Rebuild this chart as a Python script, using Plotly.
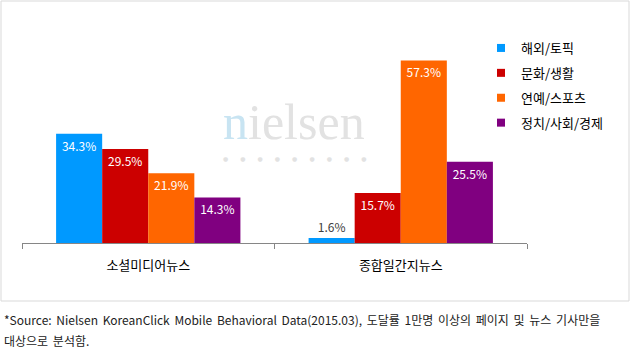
import plotly.graph_objects as go

categories = ["소셜미디어뉴스", "종합일간지뉴스"]
series_names = ["해외/토픽", "문화/생활", "연예/스포츠", "정치/사회/경제"]
overseas_topic = [34.3, 1.6]
culture_life = [29.5, 15.7]
entertainment_sports = [21.9, 57.3]
politics_society = [14.3, 25.5]
series_values = [overseas_topic, culture_life, entertainment_sports, politics_society]
colors = ["#0099ff", "#cc0000", "#ff6600", "#800080"]

footnote_1 = "*Source: Nielsen KoreanClick Mobile Behavioral Data(2015.03), 도달률 1만명 이상의 페이지 및 뉴스 기사만을"
footnote_2 = "대상으로 분석함."

FONT = "Noto Sans CJK KR"

fig = go.Figure()
for name, vals, col in zip(series_names, series_values, colors):
    pos = ["inside" if v >= 5 else "outside" for v in vals]
    tcol = ["#ffffff" if v >= 5 else "#404040" for v in vals]
    fig.add_trace(go.Bar(
        x=categories, y=vals, name=name, marker=dict(color=col, line=dict(width=0)),
        text=[f"{v:.1f}%" for v in vals], textposition=pos,
        insidetextanchor="end", textangle=0, constraintext="none",
        textfont=dict(color=tcol, size=12, family=FONT),
        showlegend=False, cliponaxis=False,
    ))
    fig.add_trace(go.Scatter(
        x=[None], y=[None], mode="markers", name=name, legendgroup=name,
        marker=dict(symbol="square", size=8, color=col), showlegend=True,
    ))

W, H = 630, 358
L, R, T, B = 22, 103, 20, 115
pw, ph = W - L - R, H - T - B

def px(x):
    return (x - L) / pw

def py(y):
    return (H - B - y) / ph

wide = " &#8198;"

fig.update_layout(
    width=W, height=H,
    margin=dict(l=L, r=R, t=T, b=B, autoexpand=False),
    paper_bgcolor="white", plot_bgcolor="white",
    barmode="group", bargap=0.27, bargroupgap=0,
    font=dict(family=FONT, color="#000000"),
    uniformtext=dict(mode=False),
    legend=dict(
        x=px(481), y=py(33), xanchor="left", yanchor="top",
        font=dict(size=13, family=FONT, color="#000000"),
        tracegroupgap=5, itemwidth=30, bgcolor="rgba(0,0,0,0)",
        traceorder="grouped",
    ),
    xaxis=dict(
        showline=True, linecolor="#868686", linewidth=1,
        ticks="outside", ticklen=5, tickcolor="#868686", tickson="boundaries",
        tickfont=dict(size=13, family=FONT, color="#000000"),
        showgrid=False, zeroline=False, ticklabelstandoff=10, automargin=False,
    ),
    yaxis=dict(range=[0, 70], visible=False, showgrid=False, zeroline=False, automargin=False),
    shapes=[dict(type="rect", xref="paper", yref="paper",
                 x0=px(1), x1=px(629), y0=py(301), y1=py(1),
                 line=dict(color="#d9d9d9", width=1), fillcolor="rgba(0,0,0,0)", layer="below")],
    annotations=[
        dict(text="<span style='color:#c8e4f2'>n</span>ielsen", x=px(294), y=py(122),
             xref="paper", yref="paper", showarrow=False,
             font=dict(family="Liberation Serif", size=50, color="#e2e2e2")),
        dict(text=("●" + "&nbsp;" * 6 + "&#8202;") * 8 + "●", x=px(294), y=py(158),
             xref="paper", yref="paper", showarrow=False,
             font=dict(family="DejaVu Sans", size=6, color="#e2e2e2")),
        dict(text=footnote_1.replace(" ", wide), x=px(2), y=py(319), xref="paper", yref="paper",
             xanchor="left", yanchor="middle", showarrow=False,
             font=dict(size=12, family=FONT, color="#222222")),
        dict(text=footnote_2.replace(" ", wide), x=px(2), y=py(340), xref="paper", yref="paper",
             xanchor="left", yanchor="middle", showarrow=False,
             font=dict(size=12, family=FONT, color="#222222")),
    ],
)

fig.write_html("out.html", config={"displayModeBar": False},
               post_script="document.body.style.margin='0';")
